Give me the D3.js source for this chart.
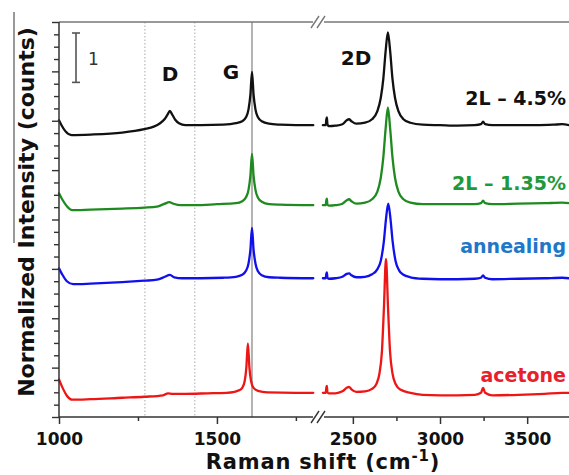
<!DOCTYPE html>
<html><head><meta charset="utf-8">
<script src="https://cdn.jsdelivr.net/npm/d3@7"></script>
<style>body{margin:0;background:#fff}</style>
</head><body>
<svg id="c" width="569" height="475"></svg>
<script>
// ---------- data ----------
const seriesNames = ["2L – 4.5%", "2L – 1.35%", "annealing", "acetone"];
const seriesOffsets = [5.91, 4.29, 2.81, 0.49];   // stacking offsets (normalized units)

// [Raman shift (cm-1), normalized intensity above offset]
const black1000 = [[1000,0.10],[1008,0.0],[1020,-0.12],[1040,-0.20],[1100,-0.19],[1200,-0.15],[1270,-0.08],[1300,-0.03],[1320,0.04],[1334,0.12],[1344,0.22],[1351,0.29],[1358,0.22],[1368,0.11],[1380,0.04],[1400,0.0],[1450,0.0],[1520,0.01],[1560,0.04],[1580,0.08],[1592,0.16],[1600,0.32],[1606,0.62],[1611,1.08],[1616,0.62],[1622,0.32],[1630,0.16],[1642,0.08],[1665,0.03],[1700,0.01],[1750,0.0],[1805,0.0]];
const black2300 = [[2328,0.0],[2344,0.0],[2348,0.12],[2351,0.16],[2354,0.02],[2362,-0.02],[2400,-0.01],[2440,0.02],[2465,0.10],[2478,0.12],[2492,0.08],[2520,0.03],[2570,0.05],[2610,0.12],[2640,0.28],[2660,0.55],[2675,0.95],[2688,1.5],[2701,1.88],[2714,1.5],[2727,0.95],[2742,0.55],[2762,0.28],[2790,0.12],[2830,0.05],[2900,0.01],[3000,0.0],[3100,-0.01],[3200,0.0],[3235,0.02],[3247,0.07],[3259,0.02],[3300,0.0],[3450,0.0],[3550,0.0],[3650,0.01],[3700,0.02],[3741,0.0]];

const green1000 = [[1000,0.24],[1010,0.12],[1025,-0.02],[1042,-0.10],[1100,-0.09],[1200,-0.07],[1270,-0.05],[1310,-0.03],[1335,0.03],[1349,0.06],[1362,0.03],[1385,0.0],[1430,0.0],[1500,0.02],[1560,0.04],[1580,0.08],[1592,0.16],[1600,0.31],[1606,0.6],[1611,1.04],[1616,0.6],[1622,0.31],[1630,0.15],[1642,0.07],[1665,0.02],[1700,0.01],[1805,0.0]];
const green2300 = [[2328,0.0],[2344,0.0],[2348,0.10],[2351,0.13],[2354,0.01],[2362,-0.01],[2400,0.0],[2440,0.03],[2465,0.10],[2478,0.12],[2492,0.08],[2520,0.03],[2570,0.05],[2610,0.12],[2640,0.27],[2660,0.55],[2675,0.98],[2688,1.55],[2701,1.98],[2714,1.55],[2727,0.98],[2742,0.55],[2762,0.27],[2790,0.12],[2830,0.05],[2900,0.02],[3000,0.02],[3100,0.02],[3200,0.02],[3235,0.04],[3247,0.09],[3259,0.04],[3300,0.02],[3450,0.03],[3600,0.04],[3700,0.05],[3741,0.04]];

const blue1000 = [[1000,0.20],[1010,0.08],[1025,-0.06],[1045,-0.12],[1100,-0.11],[1200,-0.08],[1270,-0.05],[1310,-0.03],[1335,0.03],[1351,0.07],[1365,0.02],[1390,0.0],[1450,0.0],[1520,0.01],[1560,0.03],[1580,0.07],[1592,0.15],[1600,0.3],[1606,0.58],[1611,1.02],[1616,0.58],[1622,0.3],[1630,0.14],[1642,0.06],[1665,0.02],[1700,0.01],[1805,0.0]];
const blue2300 = [[2328,0.0],[2344,0.0],[2348,0.09],[2351,0.12],[2354,0.01],[2362,-0.01],[2400,0.0],[2440,0.03],[2465,0.09],[2478,0.10],[2492,0.06],[2520,0.02],[2570,0.03],[2610,0.08],[2640,0.18],[2660,0.35],[2678,0.75],[2690,1.2],[2703,1.51],[2716,1.2],[2728,0.75],[2745,0.35],[2765,0.16],[2790,0.07],[2830,0.02],[2900,-0.01],[3000,-0.02],[3100,-0.02],[3200,-0.01],[3235,0.01],[3247,0.06],[3259,0.01],[3300,-0.02],[3450,-0.01],[3600,0.0],[3700,0.01],[3741,0.0]];

const red1000 = [[1000,0.27],[1010,0.12],[1025,-0.06],[1042,-0.14],[1100,-0.13],[1200,-0.10],[1270,-0.08],[1330,-0.05],[1345,-0.01],[1360,-0.02],[1400,-0.02],[1470,-0.01],[1530,0.0],[1555,0.02],[1570,0.05],[1580,0.1],[1588,0.24],[1593,0.5],[1598,1.0],[1603,0.5],[1608,0.24],[1616,0.1],[1630,0.04],[1660,0.01],[1750,0.0],[1805,0.0]];
const red2300 = [[2328,0.0],[2344,0.0],[2348,0.11],[2351,0.14],[2354,0.01],[2362,-0.01],[2400,-0.01],[2440,0.03],[2465,0.10],[2478,0.12],[2492,0.07],[2520,0.02],[2570,0.03],[2610,0.08],[2635,0.18],[2652,0.38],[2667,0.85],[2678,1.7],[2690,2.71],[2702,1.7],[2713,0.85],[2728,0.38],[2745,0.18],[2775,0.06],[2830,0.0],[2900,-0.04],[3000,-0.05],[3100,-0.05],[3200,-0.04],[3235,0.0],[3247,0.10],[3259,0.0],[3300,-0.05],[3450,-0.04],[3600,-0.02],[3700,0.0],[3741,0.0]];

const lowSegments = [black1000, green1000, blue1000, red1000];
const highSegments = [black2300, green2300, blue2300, red2300];

const xMajorLow = [1000, 1500], xMinorLow = [1250, 1750];
const xMajorHigh = [2500, 3000, 3500], xMinorHigh = [2750, 3250];
const dottedShifts = [1272, 1430];
const gLineShift = 1611;
const peakLabels = ["D", "G", "2D"];
const scaleBarValue = 1;

// ---------- styles ----------
const lineColors = ["#111111", "#1f8a1f", "#1010ee", "#ee1515"];
const labelColors = ["#111111", "#1e9a3c", "#1e78c8", "#e8202a"];
const FONT = "'DejaVu Sans', sans-serif";

const svg = d3.select("#c");
const xL = d3.scaleLinear().domain([1000, 1820]).range([59, 318]);
const xR = d3.scaleLinear().domain([2300, 3740]).range([318, 569]);
const y = d3.scaleLinear().domain([0, 8]).range([417, 22]);
const yTop = y(8), yBot = y(0);

// reference lines
dottedShifts.forEach(s => svg.append("line")
  .attr("x1", xL(s)).attr("x2", xL(s)).attr("y1", yTop).attr("y2", yBot)
  .attr("stroke", "#aaa").attr("stroke-width", 1).attr("stroke-dasharray", "1.5,2"));
svg.append("line").attr("x1", xL(gLineShift)).attr("x2", xL(gLineShift))
  .attr("y1", yTop).attr("y2", yBot).attr("stroke", "#9a9a9a").attr("stroke-width", 1.5);

// spectra
seriesNames.forEach((n, i) => {
  const off = seriesOffsets[i];
  const lineL = d3.line().x(d => xL(d[0])).y(d => y(d[1] + off)).curve(d3.curveMonotoneX);
  const lineR = d3.line().x(d => xR(d[0])).y(d => y(d[1] + off)).curve(d3.curveMonotoneX);
  [[lowSegments[i], lineL], [highSegments[i], lineR]].forEach(([data, ln]) =>
    svg.append("path").attr("d", ln(data)).attr("fill", "none")
      .attr("stroke", lineColors[i]).attr("stroke-width", 2.3)
      .attr("stroke-linejoin", "round").attr("stroke-linecap", "round"));
});

// axes lines with break
const axisCol = "#333";
const breakX = xL.range()[1];
function hline(x1, x2, yy, col, w) {
  svg.append("line").attr("x1", x1).attr("x2", x2).attr("y1", yy).attr("y2", yy)
    .attr("stroke", col).attr("stroke-width", w);
}
hline(xL.range()[0], breakX - 5, yBot, axisCol, 1.5);
hline(breakX + 6, xR.range()[1], yBot, axisCol, 1.5);
hline(xL.range()[0], breakX - 5, yTop, "#777", 1.5);
hline(breakX + 6, xR.range()[1], yTop, "#777", 1.5);
[yBot, yTop].forEach(yy => [-3, 3].forEach(dx => svg.append("line")
  .attr("x1", breakX + dx - 4).attr("x2", breakX + dx + 4)
  .attr("y1", yy + 6).attr("y2", yy - 6)
  .attr("stroke", yy === yBot ? axisCol : "#777").attr("stroke-width", 1.4)));
svg.append("line").attr("x1", xL.range()[0]).attr("x2", xL.range()[0])
  .attr("y1", yTop).attr("y2", yBot).attr("stroke", axisCol).attr("stroke-width", 1.5);

// x ticks
function xTicks(scale, vals, len, labels) {
  const ax = d3.axisBottom(scale).tickValues(vals).tickSize(len).tickSizeOuter(0)
    .tickFormat(labels ? d3.format("d") : "");
  const g = svg.append("g").attr("transform", `translate(0,${yBot})`).call(ax);
  g.select(".domain").remove();
  g.attr("font-size", null).attr("font-family", null);
  g.selectAll(".tick line").attr("stroke", axisCol).attr("stroke-width", 1.5);
  g.selectAll(".tick text").style("font-family", FONT).style("font-weight", "bold")
    .style("font-size", "17px").attr("fill", "#111").attr("dy", 0).attr("y", 28);
}
xTicks(xL, xMajorLow, 7, true);
xTicks(xL, xMinorLow, 4, false);
xTicks(xR, xMajorHigh, 7, true);
xTicks(xR, xMinorHigh, 4, false);

// y ticks
const yMajor = d3.range(0, 8.01, 1);
const yMinor = d3.range(0, 8.01, 0.25).filter(v => Math.abs(v - Math.round(v)) > 0.01);
function yTicks(vals, len) {
  const g = svg.append("g").attr("transform", `translate(${xL.range()[0]},0)`)
    .call(d3.axisLeft(y).tickValues(vals).tickSize(len).tickFormat(""));
  g.select(".domain").remove();
  g.selectAll(".tick line").attr("stroke", axisCol).attr("stroke-width", 1.4);
}
yTicks(yMajor, 7);
yTicks(yMinor, 5);

// scale bar
const sbTop = 33, sbLen = y(0) - y(scaleBarValue), sbX = 76;
svg.append("line").attr("x1", sbX).attr("x2", sbX).attr("y1", sbTop).attr("y2", sbTop + sbLen)
  .attr("stroke", "#555").attr("stroke-width", 1.6);
[sbTop, sbTop + sbLen].forEach(yy => hline(sbX - 4, sbX + 4, yy, "#555", 1.6));
svg.append("text").attr("x", 88).attr("y", 65).text(scaleBarValue)
  .attr("font-family", FONT).attr("font-size", 17).attr("fill", "#333");

// peak labels
const peakPos = [[170, 81], [231, 79], [356, 65]];
peakLabels.forEach((t, i) => svg.append("text").attr("x", peakPos[i][0]).attr("y", peakPos[i][1])
  .attr("text-anchor", "middle").attr("font-family", FONT).attr("font-weight", "bold")
  .attr("font-size", 20).attr("fill", "#111").text(t));

// series labels
const labelY = [105, 190, 253, 382];
seriesNames.forEach((n, i) => svg.append("text").attr("x", 566).attr("y", labelY[i])
  .attr("text-anchor", "end").attr("font-family", FONT).attr("font-weight", "bold")
  .attr("font-size", 19).attr("fill", labelColors[i]).text(n));

// axis titles
const xt = svg.append("text").attr("x", 323).attr("y", 469).attr("text-anchor", "middle")
  .attr("font-family", FONT).attr("font-weight", "bold").attr("font-size", 21)
  .attr("letter-spacing", 0.8).attr("fill", "#111");
xt.append("tspan").text("Raman shift (cm");
xt.append("tspan").attr("dy", -8).attr("font-size", 15).text("-1");
xt.append("tspan").attr("dy", 8).text(")");

svg.append("text").attr("transform", "translate(34,212) rotate(-90)").attr("text-anchor", "middle")
  .attr("font-family", FONT).attr("font-weight", "bold").attr("font-size", 22).attr("fill", "#111")
  .text("Normalized Intensity (counts)");
svg.append("line").attr("x1", 14).attr("x2", 14).attr("y1", 12).attr("y2", 243)
  .attr("stroke", "#333").attr("stroke-width", 1);
</script>
</body></html>
